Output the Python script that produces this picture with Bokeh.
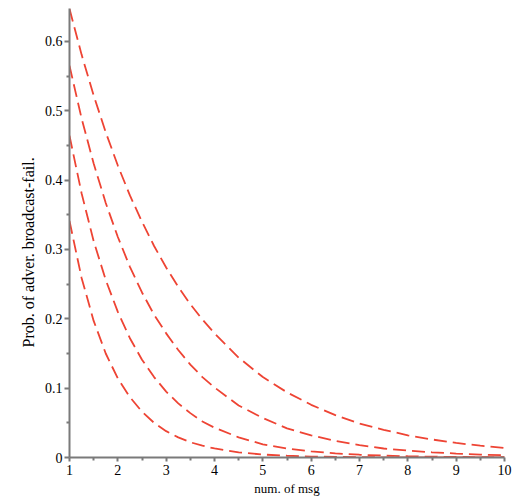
from bokeh.plotting import figure
from bokeh.models import Range1d, FixedTicker, Title, ColumnDataSource
from bokeh.embed import file_html
from bokeh.resources import INLINE

# number of messages (read positions)
msgs = [1, 1.25, 1.5, 1.75, 2, 2.25, 2.5, 2.75, 3, 3.25, 3.5, 3.75, 4,
        4.5, 5, 5.5, 6, 6.5, 7, 7.5, 8, 8.5, 9, 9.5, 10]

# probability curves (top to bottom)
curve_a = [0.647, 0.581, 0.522, 0.469, 0.421, 0.378, 0.340, 0.305, 0.274, 0.246,
           0.221, 0.199, 0.179, 0.144, 0.116, 0.094, 0.076, 0.061, 0.049, 0.040,
           0.032, 0.026, 0.021, 0.017, 0.0136]
curve_b = [0.565, 0.489, 0.424, 0.367, 0.318, 0.275, 0.238, 0.206, 0.179, 0.155,
           0.134, 0.116, 0.101, 0.075, 0.057, 0.042, 0.032, 0.024, 0.018, 0.013,
           0.010, 0.0075, 0.0057, 0.0042, 0.0032]
curve_c = [0.464, 0.381, 0.312, 0.256, 0.210, 0.172, 0.141, 0.116, 0.095, 0.078,
           0.064, 0.052, 0.043, 0.029, 0.019, 0.013, 0.0088, 0.0059, 0.0040, 0.0027,
           0.0018, 0.0012, 0.0008, 0.0005, 0.0004]
curve_d = [0.341, 0.259, 0.197, 0.150, 0.114, 0.087, 0.066, 0.050, 0.038, 0.029,
           0.022, 0.017, 0.013, 0.0074, 0.0043, 0.0025, 0.0014, 0.0008, 0.0005, 0.0003,
           0.0002, 0.0001, 0.0001, 0.0, 0.0]

x_ticks = [1, 2, 3, 4, 5, 6, 7, 8, 9, 10]
x_minor = [1.5, 2.5, 3.5, 4.5, 5.5, 6.5, 7.5, 8.5, 9.5]
y_ticks = [0, 0.1, 0.2, 0.3, 0.4, 0.5, 0.6]
y_tick_labels = ["0", "0.1", "0.2", "0.3", "0.4", "0.5", "0.6"]
y_minor = [0.05, 0.15, 0.25, 0.35, 0.45, 0.55]

x_label = "num. of msg"
y_label = "Prob. of adver. broadcast-fail."

FONT = "Liberation Serif"
RED = "#ee4434"
AXIS = "#7a7a7a"

p = figure(width=514, height=500, output_backend="svg", toolbar_location=None,
           x_range=Range1d(1, 10), y_range=Range1d(0, 0.6475),
           min_border_left=69, min_border_right=10, min_border_top=8,
           min_border_bottom=43)
p.outline_line_color = None
p.grid.visible = False
p.background_fill_color = "white"
p.border_fill_color = "white"

src = ColumnDataSource(dict(x=msgs, a=curve_a, b=curve_b, c=curve_c, d=curve_d))
for col in ["a", "b", "c", "d"]:
    p.line("x", col, source=src, line_color=RED, line_width=1.8, line_dash="13 6")

for ax in (p.xaxis[0], p.yaxis[0]):
    ax.axis_line_color = AXIS
    ax.axis_line_width = 2
    ax.major_tick_line_color = AXIS
    ax.minor_tick_line_color = AXIS
    ax.major_tick_line_width = 2
    ax.minor_tick_line_width = 2
    ax.major_tick_in = 0
    ax.minor_tick_in = 0
    ax.major_label_text_font = FONT
    ax.major_label_text_font_size = "14px"
    ax.major_label_text_color = "black"

p.xaxis.ticker = FixedTicker(ticks=x_ticks, minor_ticks=x_minor)
p.yaxis.ticker = FixedTicker(ticks=y_ticks, minor_ticks=y_minor)
p.yaxis.major_label_overrides = {t: l for t, l in zip(y_ticks, y_tick_labels)}
p.xaxis.major_tick_out = 4
p.xaxis.minor_tick_out = 3
p.yaxis.major_tick_out = 5
p.yaxis.minor_tick_out = 3
p.xaxis.major_label_standoff = 3
p.yaxis.major_label_standoff = 2

p.xaxis.axis_label = x_label
p.xaxis.axis_label_text_font = FONT
p.xaxis.axis_label_text_font_style = "normal"
p.xaxis.axis_label_text_font_size = "13px"
p.xaxis.axis_label_text_color = "black"
p.xaxis.axis_label_standoff = 3

p.add_layout(Title(text=y_label, align="left", offset=110,
                   text_font=FONT, text_font_size="16px", text_font_style="normal",
                   text_color="black"), "left")

open("out.html", "w").write(file_html(p, INLINE))
